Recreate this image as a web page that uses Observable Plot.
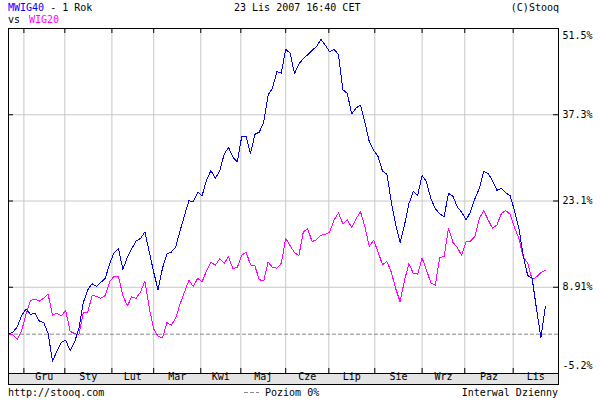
<!DOCTYPE html>
<html><head><meta charset="utf-8">
<script src="https://cdn.jsdelivr.net/npm/d3@7"></script>
<script src="https://cdn.jsdelivr.net/npm/@observablehq/plot@0.6"></script>
<style>
body{margin:0;background:#fff;}
#wrap{position:relative;width:600px;height:400px;font:10px "DejaVu Sans Mono",monospace;color:#000;overflow:hidden;background:#fff}
.t{position:absolute;white-space:pre;line-height:12px}
#band{position:absolute;left:8px;top:373px;width:551px;height:12px;background:#e4e4e4;border:1px solid #000;box-sizing:border-box}
#chart{position:absolute;left:0;top:0}
</style></head>
<body>
<div id="wrap">
  <div id="band"></div>
  <div id="chart"></div>
  <div class="t" style="left:8px;top:2px"><span style="color:#0000ff">MWIG40</span> - 1 Rok</div>
  <div class="t" style="left:234px;top:2px">23 Lis 2007 16:40 CET</div>
  <div class="t" style="right:41px;top:2px">(C)Stooq</div>
  <div class="t" style="left:8px;top:14px">vs</div>
  <div class="t" style="left:29px;top:14px;color:#ff00ff">WIG20</div>
  <div class="t" style="left:8px;top:387px">http://stooq.com</div>
  <div class="t" style="left:244px;top:387px"><svg width="15" height="9" style="vertical-align:baseline"><line x1="0" x2="15" y1="5.5" y2="5.5" stroke="#888" stroke-dasharray="4,2" shape-rendering="crispEdges"/></svg> Poziom 0%</div>
  <div class="t" style="right:42px;top:387px">Interwal Dzienny</div>
</div>
<script>
// x axis: trading-day index over one year (23 Nov 2006 - 23 Nov 2007)
const months = ["Gru","Sty","Lut","Mar","Kwi","Maj","Cze","Lip","Sie","Wrz","Paz","Lis"];
const monthStarts = [7, 25.6, 47, 66, 87.4, 105.6, 126, 145.6, 166.5, 188, 207.4, 229.4];
const dayEnd = 250;
// y axis labels (percent)
const yTickPct = [-5.2, 8.91, 23.1, 37.3, 51.5];
const yTickLabels = ["-5.2%", "8.91%", "23.1%", "37.3%", "51.5%"];
// samples every 2 trading days, % change from start
const step = 2;
const mwig40 = [0,0.3,1.0,2.6,3.5,2.7,2.9,1.8,1.6,0.1,-3.6,-2.3,-1.1,-0.8,-2.2,-1.1,0.8,4.4,6.2,7.1,6.7,7.3,7.9,10.1,11.7,12.3,9.2,11.0,12.3,13.5,13.9,14.9,
11.8,8.8,6.2,9.4,11.5,11.8,12.6,15.1,17.5,19.9,19.7,21.3,20.7,23.3,24.9,23.6,24.8,27.7,28.9,27.2,26.4,30.8,30.8,27.8,31.2,31.6,33.4,38.4,39.7,42.9,42.6,
47.3,46.5,42.5,44.4,45.4,46.2,47.1,47.8,49.3,48.1,46.8,47.3,46.2,39.4,38.7,34.9,36.0,36.5,33.4,29.9,28.4,27.3,24.8,24.3,19.7,16.0,13.3,16.0,19.4,21.4,20.8,
24.1,23.0,20.2,18.6,17.8,17.3,21.1,20.6,18.9,18.0,16.8,18.1,20.2,21.9,24.8,24.4,23.2,21.6,21.9,21.2,20.7,18.3,15.5,11.2,8.3,7.9,3.5,-0.5,3.8];
const wig20 = [0,-0.1,-0.7,0.5,2.8,4.7,4.9,4.6,5.0,5.6,2.6,2.9,2.5,3.3,0.4,0.1,-0.1,3.0,3.0,5.4,5.3,5.0,5.4,7.4,8.2,8.1,5.4,3.9,5.2,5.0,5.9,7.5,
3.6,0.7,-0.3,-0.5,1.6,1.2,2.2,4.2,5.9,7.6,6.7,7.9,7.4,9.0,10.3,9.8,10.8,10.1,11.1,9.3,9.5,11.3,11.8,9.9,9.7,7.7,7.5,10.3,9.5,9.4,10.1,
13.9,12.8,11.7,11.3,14.9,15.4,13.4,13.7,14.4,14.5,14.9,16.8,17.9,16.2,16.8,15.6,17.0,18.1,15.7,12.7,13.6,11.8,9.9,10.4,8.8,6.4,4.5,7.6,10.1,8.6,8.5,
10.9,9.1,7.2,6.9,11.0,11.1,15.5,13.3,12.5,11.3,13.4,13.5,14.2,17.0,18.3,16.8,15.5,16.0,17.8,18.3,17.7,15.6,13.9,11.0,10.2,7.7,8.1,8.7,9.1];

const W = 600, H = 400, mL = 8, mR = 42, mT = 28, mB = 27;
const innerW = W - mL - mR, innerH = H - mT - mB;
const n = yTickPct.length;
const lo = Math.log(1 + yTickPct[0] / 100), hi = Math.log(1 + yTickPct[n - 1] / 100);
// Stooq places its labels evenly on a log-ratio scale
const yTicks = yTickPct.map((_, k) => Math.exp(lo + k * (hi - lo) / (n - 1)));
const rows = arr => arr.map((v, i) => ({day: i * step, r: 1 + v / 100}));
const mids = months.map((m, i) => ({m, x: (monthStarts[i] + (i + 1 < monthStarts.length ? monthStarts[i + 1] : dayEnd)) / 2}));
const grid = "#c8c8c8";

const chart = Plot.plot({
  width: W, height: H, marginLeft: mL, marginRight: mR, marginTop: mT, marginBottom: mB,
  style: {background: "transparent", fontFamily: "DejaVu Sans Mono", fontSize: "10px", color: "#000", overflow: "visible"},
  x: {type: "linear", domain: [0, dayEnd], axis: null},
  y: {type: "log", domain: [yTicks[0], yTicks[n - 1]], axis: null},
  marks: [
    Plot.ruleX(monthStarts, {stroke: grid}),
    Plot.ruleY(yTicks.slice(1, -1), {stroke: grid}),
    Plot.ruleY([1], {stroke: "#888", strokeDasharray: "4,2"}),
    Plot.line(rows(wig20), {x: "day", y: "r", stroke: "#ff00ff", strokeWidth: 1, shapeRendering: "crispEdges"}),
    Plot.line(rows(mwig40), {x: "day", y: "r", stroke: "#0000ff", strokeWidth: 1, shapeRendering: "crispEdges"}),
    Plot.ruleY(yTicks, {stroke: "#000", insetLeft: innerW - 5}),
    Plot.ruleY(yTicks, {stroke: "#000", insetRight: innerW - 5}),
    Plot.ruleX(monthStarts, {stroke: "#000", insetBottom: innerH - 5}),
    Plot.ruleX(monthStarts, {stroke: "#000", insetTop: innerH - 5}),
    Plot.frame({stroke: "#000"}),
    Plot.text(d3.range(1, n - 1), {y: i => yTicks[i], text: i => yTickLabels[i], frameAnchor: "right", textAnchor: "start", dx: 4, fill: "#000"}),
    Plot.text([n - 1], {y: i => yTicks[i], text: i => yTickLabels[i], frameAnchor: "right", textAnchor: "start", dx: 4, dy: 7, fill: "#000"}),
    Plot.text([0], {y: i => yTicks[i], text: i => yTickLabels[i], frameAnchor: "right", textAnchor: "start", dx: 4, dy: -8, fill: "#000"}),
    Plot.text(mids, {x: "x", text: "m", frameAnchor: "bottom", dy: 6, fill: "#000"})
  ]
});
document.getElementById("chart").appendChild(chart);
</script>
</body></html>
